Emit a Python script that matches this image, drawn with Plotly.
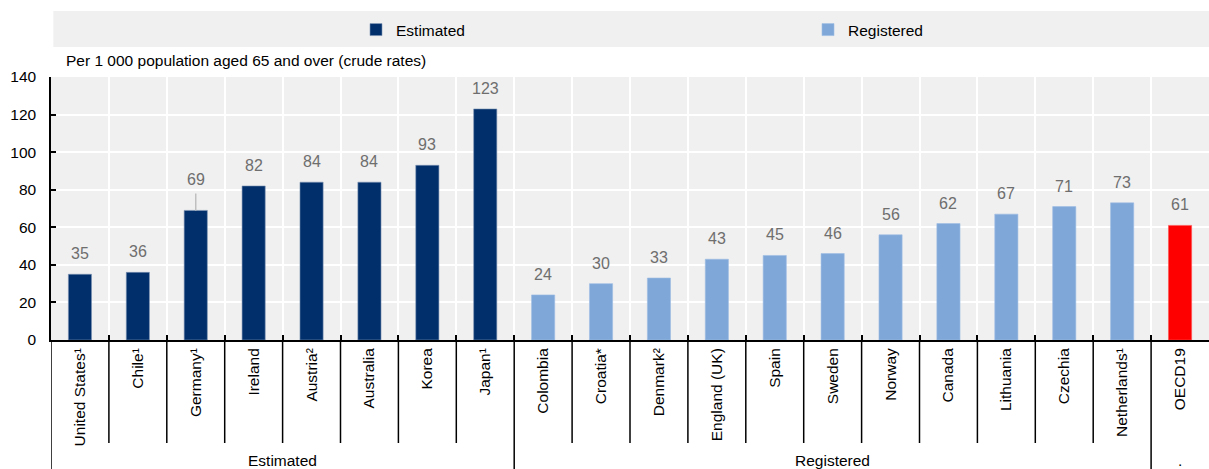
import plotly.graph_objects as go

# ---- data ----
est_cats = ["United States¹", "Chile¹", "Germany¹", "Ireland", "Austria²", "Australia", "Korea", "Japan¹"]
est_vals = [35, 36, 69, 82, 84, 84, 93, 123]
est_whisker = [0, 0, 9, 0, 0, 0, 0, 0]

reg_cats = ["Colombia", "Croatia*", "Denmark²", "England (UK)", "Spain", "Sweden", "Norway",
            "Canada", "Lithuania", "Czechia", "Netherlands¹"]
reg_vals = [24, 30, 33, 43, 45, 46, 56, 62, 67, 71, 73]

oecd_cats = ["OECD19"]
oecd_vals = [61]

group_names = ["Estimated", "Registered", "."]
y_ticks = [0, 20, 40, 60, 80, 100, 120, 140]
subtitle = "Per 1 000 population aged 65 and over (crude rates)"

# ---- styling ----
FONT = "Liberation Sans, Arial, sans-serif"
FS = 15.5
C_EST = "#002F6C"
C_REG = "#7FA8D9"
C_OECD = "#FF0000"
BG = "#F0F0F0"

all_cats = est_cats + reg_cats + oecd_cats
all_vals = est_vals + reg_vals + oecd_vals
all_whisk = est_whisker + [0] * (len(reg_cats) + len(oecd_cats))

fig = go.Figure()
fig.add_trace(go.Bar(
    x=est_cats, y=est_vals, name="Estimated", marker_color=C_EST,
    marker_line=dict(color="#8096b4", width=0.6), width=0.4,
    error_y=dict(type="data", array=est_whisker, arrayminus=[0] * len(est_cats),
                 symmetric=False, width=0, color="#BFBFBF", thickness=1.5),
    legend="legend",
))
fig.add_trace(go.Bar(
    x=reg_cats, y=reg_vals, name="Registered", marker_color=C_REG,
    marker_line=dict(color="#9dbce2", width=0.6), width=0.4, legend="legend2",
))
fig.add_trace(go.Bar(
    x=oecd_cats, y=oecd_vals, name="OECD19", marker_color=C_OECD,
    marker_line=dict(color="#ff5050", width=0.6), width=0.4, showlegend=False,
))

H_PLOT = 263.0  # plot height in px
def py(px_below_axis):
    return -px_below_axis / H_PLOT

annotations = []
# value labels
for c, v, w in zip(all_cats, all_vals, all_whisk):
    annotations.append(dict(
        x=c, y=v + w, xref="x", yref="y", text=str(v), showarrow=False,
        yanchor="bottom", yshift=(3 if w else 10),
        font=dict(family=FONT, size=16, color="#6E6E6E"),
    ))

# group labels & separators
groups = [est_cats, reg_cats, oecd_cats]
shapes = []
start = 0
for gi, g in enumerate(groups):
    n = len(g)
    center = start + (n - 1) / 2
    annotations.append(dict(
        x=center, y=py(120), xref="x", yref="paper", text=group_names[gi],
        showarrow=False, yanchor="middle",
        font=dict(family=FONT, size=FS, color="black"),
    ))
    for k in range(start, start + n - 1):
        shapes.append(dict(type="line", xref="x", yref="paper", x0=k + 0.5, x1=k + 0.5,
                           y0=0, y1=py(103), line=dict(color="black", width=1.5)))
    shapes.append(dict(type="line", xref="x", yref="paper", x0=start - 0.5, x1=start - 0.5,
                       y0=0, y1=py(129), line=dict(color="black", width=1.5)))
    start += n

# legend band
shapes.insert(0, dict(type="rect", xref="paper", yref="paper", x0=0.002, x1=1.0,
                      y0=1 + (77 - 47) / H_PLOT, y1=1 + (77 - 11) / H_PLOT,
                      fillcolor=BG, line=dict(width=0), layer="below"))

annotations.append(dict(
    x=0.011, y=1 + (77 - 60) / H_PLOT, xref="paper", yref="paper", text=subtitle,
    showarrow=False, xanchor="left", yanchor="middle",
    font=dict(family=FONT, size=FS, color="black"),
))

legend_common = dict(orientation="h", yanchor="middle", xanchor="left",
                     y=1 + (77 - 30) / H_PLOT, bgcolor="rgba(0,0,0,0)",
                     font=dict(family=FONT, size=FS, color="black"))

fig.update_layout(
    width=1209, height=469,
    margin=dict(l=51, r=0, t=77, b=129, pad=0),
    paper_bgcolor="white", plot_bgcolor=BG,
    barmode="overlay",
    font=dict(family=FONT, size=FS, color="black"),
    showlegend=True,
    legend=dict(x=(356 - 51) / 1158, **legend_common),
    legend2=dict(x=(808 - 51) / 1158, **legend_common),
    annotations=annotations,
    shapes=shapes,
    xaxis=dict(
        type="category", categoryorder="array", categoryarray=all_cats,
        range=[-0.5, len(all_cats) - 0.5],
        tickangle=-90, tickson="boundaries", ticks="inside", ticklen=5,
        tickcolor="black", tickwidth=1.5,
        showgrid=True, gridcolor="white", gridwidth=1.5,
        showline=True, linecolor="black", linewidth=2,
        tickfont=dict(family=FONT, size=FS, color="black"),
        fixedrange=True,
    ),
    yaxis=dict(
        range=[0, 140], tickvals=y_ticks, ticks="inside", ticklen=5,
        tickcolor="black", tickwidth=1.5, ticklabelstandoff=10,
        showgrid=True, gridcolor="white", gridwidth=1.5,
        showline=True, linecolor="black", linewidth=1.5,
        zeroline=False,
        tickfont=dict(family=FONT, size=FS, color="black"),
        fixedrange=True,
    ),
)

fig.write_html("out.html")
